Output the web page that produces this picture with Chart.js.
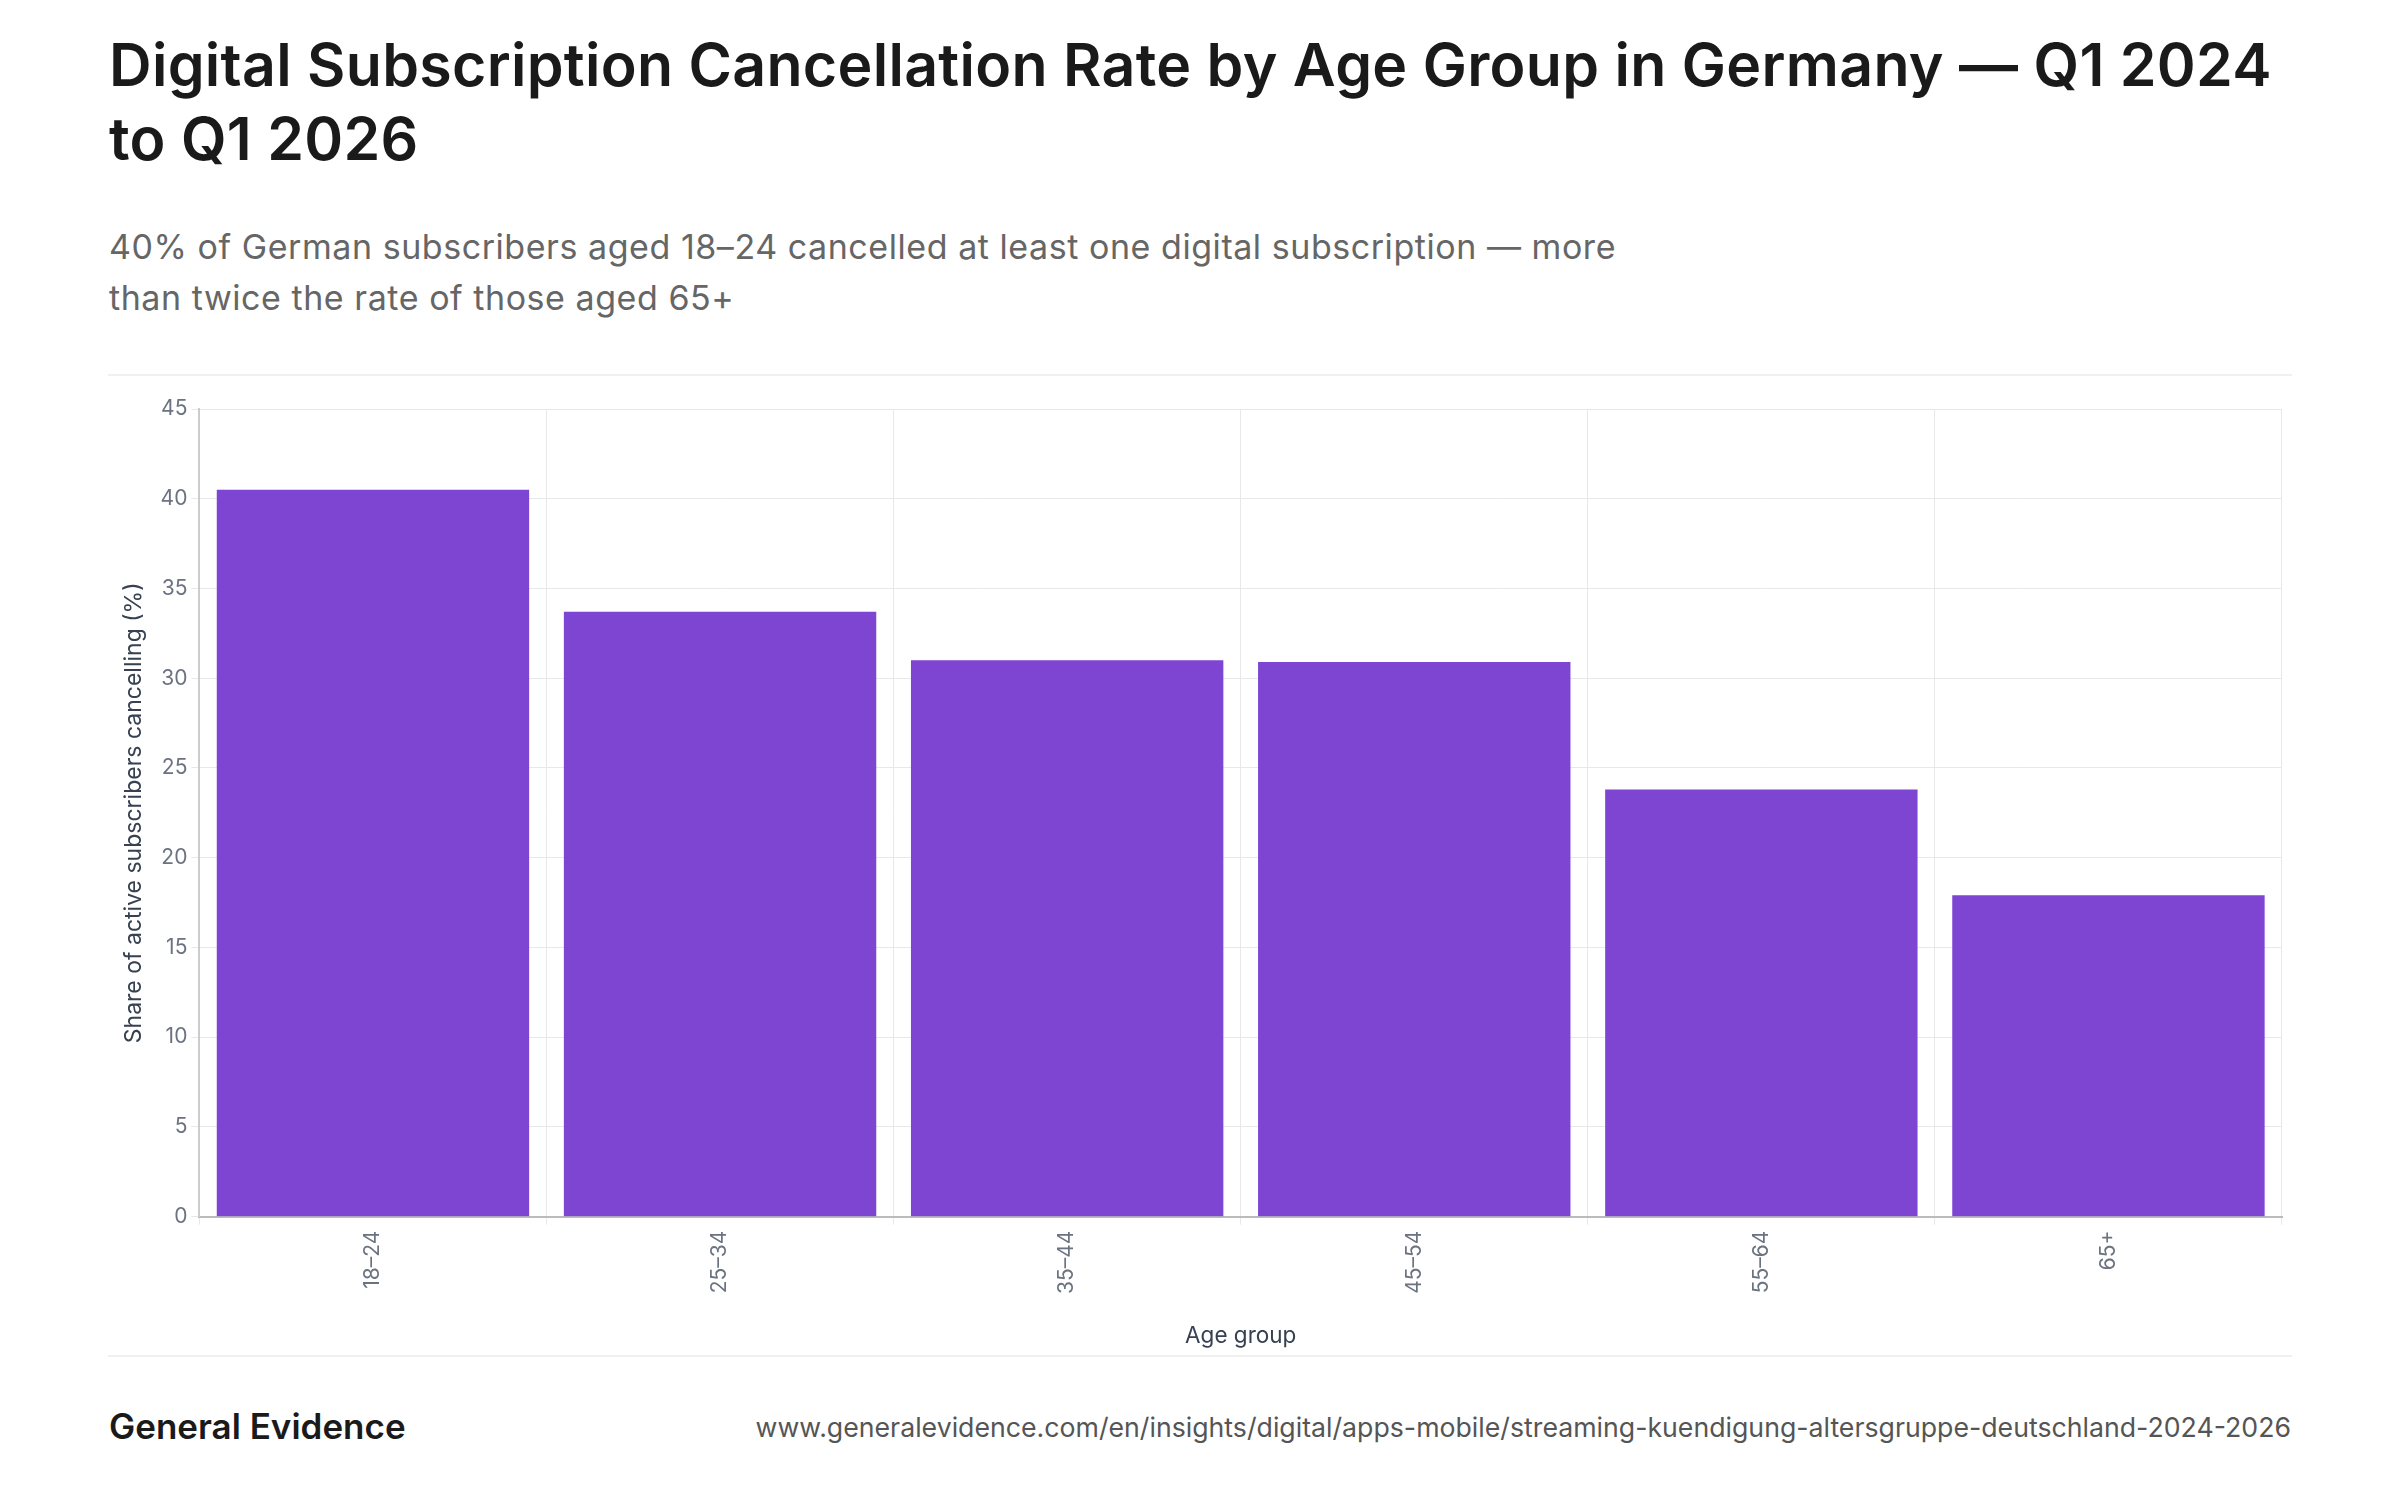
<!DOCTYPE html>
<html>
<head>
<meta charset="utf-8">
<script src="https://cdn.jsdelivr.net/npm/chart.js@4"></script>
<style>
  body { margin: 0; background: #fff; font-family: Inter, "Noto Sans", sans-serif; }
  .page { position: relative; width: 2400px; height: 1500px; }
  h1 { position: absolute; left: 109px; top: 28px; width: 2200px; margin: 0;
       font-size: 59px; line-height: 74px; font-weight: 600; color: #1a1a1a; letter-spacing: 0.3px; }
  .sub { position: absolute; left: 109px; top: 221px; width: 1560px; margin: 0;
         font-size: 34px; line-height: 51px; color: #666; letter-spacing: 0.55px; }
  .rule { position: absolute; left: 108px; width: 2184px; height: 2px; background: #f0f0f0; }
  .wrap { position: absolute; left: 108px; top: 392px; width: 2184px; height: 962px; }
  .brand { position: absolute; left: 109px; top: 1405px; font-size: 35px; font-weight: 600; color: #1a1a1a; }
  .url { position: absolute; right: 109px; top: 1411px; font-size: 26.7px; color: #555; }
</style>
</head>
<body>
<div class="page">
  <h1>Digital Subscription Cancellation Rate by Age Group in Germany — Q1 2024 to Q1 2026</h1>
  <p class="sub">40% of German subscribers aged 18–24 cancelled at least one digital subscription — more than twice the rate of those aged 65+</p>
  <div class="rule" style="top:374px"></div>
  <div class="wrap"><canvas id="chart"></canvas></div>
  <div class="rule" style="top:1355px"></div>
  <div class="brand">General Evidence</div>
  <div class="url">www.generalevidence.com/en/insights/digital/apps-mobile/streaming-kuendigung-altersgruppe-deutschland-2024-2026</div>
</div>
<script>
const ageGroups = ['18–24', '25–34', '35–44', '45–54', '55–64', '65+'];
const cancelRates = [40.5, 33.7, 31.0, 30.9, 23.8, 17.9];
const yTicks = [0, 5, 10, 15, 20, 25, 30, 35, 40, 45];

const tickColor = '#6b7280';
const gridColor = '#e8e8e8';

new Chart(document.getElementById('chart'), {
    type: 'bar',
    data: {
        labels: ageGroups,
        datasets: [{
            label: 'Share of active subscribers cancelling (%)',
            data: cancelRates,
            backgroundColor: '#7e44d2',
            borderWidth: 0,
            barPercentage: 0.9,
            categoryPercentage: 1
        }]
    },
    options: {
        responsive: true,
        maintainAspectRatio: false,
        devicePixelRatio: 1,
        animation: false,
        layout: { padding: { top: 17, right: 10 } },
        plugins: {
            legend: { display: false },
            tooltip: { enabled: false }
        },
        scales: {
            x: {
                grid: { color: gridColor, tickLength: 8 },
                border: { color: '#bbb', width: 2 },
                ticks: {
                    color: tickColor,
                    font: { family: 'Inter', size: 21 },
                    minRotation: 90,
                    maxRotation: 90,
                    padding: 6
                },
                title: {
                    display: true,
                    text: 'Age group',
                    color: '#374151',
                    font: { family: 'Inter', size: 22.5 },
                    padding: { top: 23, bottom: 4 }
                }
            },
            y: {
                min: 0,
                max: 45,
                afterBuildTicks: axis => { axis.ticks = yTicks.map(v => ({ value: v })); },
                grid: { color: gridColor, tickLength: 8 },
                border: { color: '#ccc', width: 2 },
                ticks: {
                    color: tickColor,
                    font: { family: 'Inter', size: 21 },
                    padding: 4
                },
                title: {
                    display: true,
                    text: 'Share of active subscribers cancelling (%)',
                    color: '#374151',
                    font: { family: 'Inter', size: 23 },
                    padding: { top: 12, bottom: 9 }
                }
            }
        }
    }
});
</script>
</body>
</html>
